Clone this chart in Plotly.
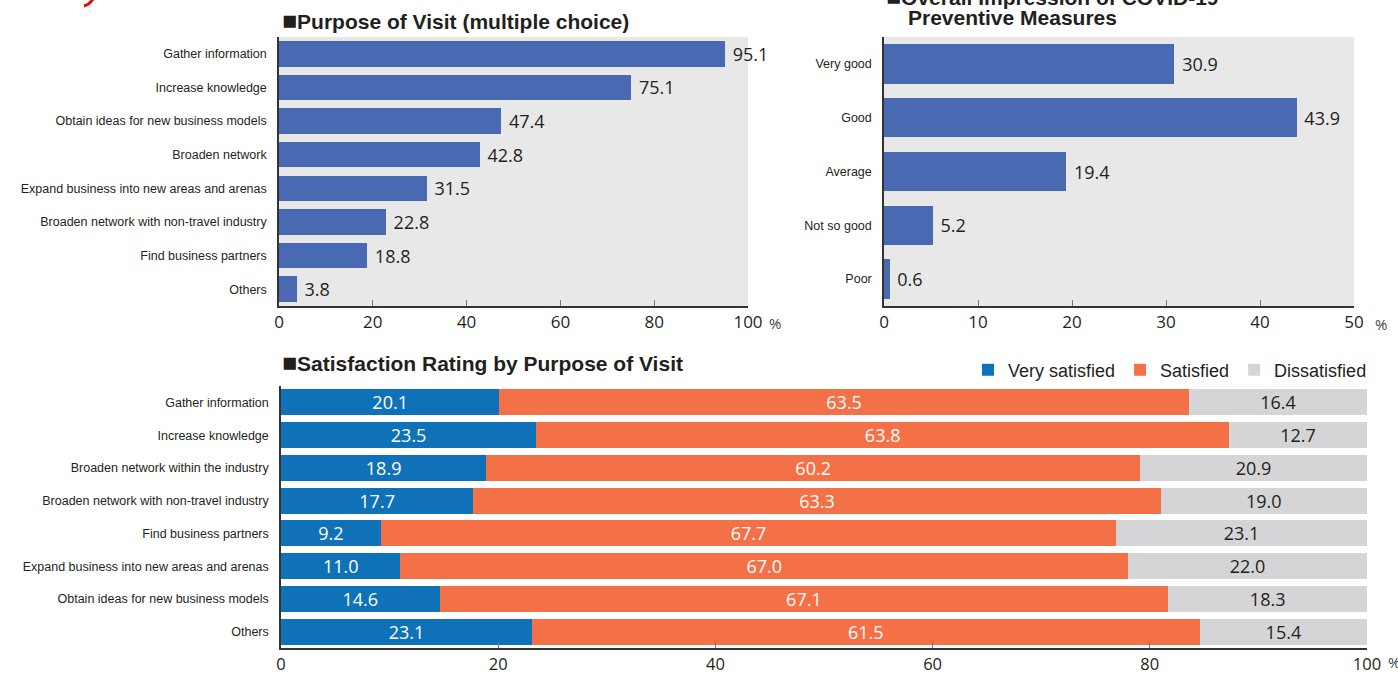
"""Visitor survey: purpose, COVID-19 measures impression, satisfaction by purpose."""
import plotly.graph_objects as go

W, H = 1398, 675

# --- data -------------------------------------------------------------
purpose_labels = [
    "Gather information",
    "Increase knowledge",
    "Obtain ideas for new business models",
    "Broaden network",
    "Expand business into new areas and arenas",
    "Broaden network with non-travel industry",
    "Find business partners",
    "Others",
]
purpose_values = [95.1, 75.1, 47.4, 42.8, 31.5, 22.8, 18.8, 3.8]

covid_labels = ["Very good", "Good", "Average", "Not so good", "Poor"]
covid_values = [30.9, 43.9, 19.4, 5.2, 0.6]

sat_labels = [
    "Gather information",
    "Increase knowledge",
    "Broaden network within the industry",
    "Broaden network with non-travel industry",
    "Find business partners",
    "Expand business into new areas and arenas",
    "Obtain ideas for new business models",
    "Others",
]
very_satisfied = [20.1, 23.5, 18.9, 17.7, 9.2, 11.0, 14.6, 23.1]
satisfied = [63.5, 63.8, 60.2, 63.3, 67.7, 67.0, 67.1, 61.5]
dissatisfied = [16.4, 12.7, 20.9, 19.0, 23.1, 22.0, 18.3, 15.4]

x_ticks_100 = [0, 20, 40, 60, 80, 100]
x_ticks_50 = [0, 10, 20, 30, 40, 50]

# --- style ------------------------------------------------------------
BAR_BLUE = "#4a69b3"
VS_BLUE = "#0f72b9"
SAT_ORANGE = "#f47148"
DIS_GREY = "#d5d5d7"
PANEL_BG = "#e8e8e8"
TEXT = "#231f20"
NUM_FONT = "Open Sans, Noto Sans, sans-serif"
CAT_FONT = "Liberation Sans, Arial, sans-serif"
TITLE_FONT = "Liberation Sans, Arial, sans-serif"


def px_x(x):
    return x / W


def px_y(y):
    return 1 - y / H


fig = go.Figure()

# top-left: purpose of visit
fig.add_trace(go.Bar(
    x=purpose_values, y=purpose_labels, orientation="h", width=0.76,
    marker=dict(color=BAR_BLUE, line_width=0),
    text=purpose_values, texttemplate="\u00a0%{x:.1f}", textposition="outside",
    textfont=dict(family=NUM_FONT, size=18, color=TEXT),
    cliponaxis=False, showlegend=False, xaxis="x", yaxis="y",
))

# top-right: covid measures
fig.add_trace(go.Bar(
    x=covid_values, y=covid_labels, orientation="h", width=0.73,
    marker=dict(color=BAR_BLUE, line_width=0),
    text=covid_values, texttemplate="\u00a0%{x:.1f}", textposition="outside",
    textfont=dict(family=NUM_FONT, size=18, color=TEXT),
    cliponaxis=False, showlegend=False, xaxis="x2", yaxis="y2",
))

# bottom: stacked satisfaction
for name, vals, col, tcol in [
    ("Very satisfied", very_satisfied, VS_BLUE, "white"),
    ("Satisfied", satisfied, SAT_ORANGE, "white"),
    ("Dissatisfied", dissatisfied, DIS_GREY, TEXT),
]:
    fig.add_trace(go.Bar(
        x=vals, y=sat_labels, orientation="h", name=name, width=0.8,
        marker=dict(color=col, line_width=0),
        text=vals, texttemplate="%{x:.1f}", textposition="inside",
        insidetextanchor="middle", constraintext="none",
        textfont=dict(family=NUM_FONT, size=18, color=tcol),
        xaxis="x3", yaxis="y3",
    ))

common_x = dict(
    showgrid=False, zeroline=False, showline=True, linecolor="#333", linewidth=1.5,
    ticks="inside", ticklen=6, tickcolor="#777", tickwidth=1.2, automargin=False,
    tickfont=dict(family=NUM_FONT, size=17, color=TEXT), fixedrange=True,
)
common_y = dict(
    showgrid=False, zeroline=False, showline=True, linecolor="#333", linewidth=1.5,
    ticks="", autorange="reversed", ticklabelstandoff=8, automargin=False,
    tickfont=dict(family=CAT_FONT, size=12.5, color=TEXT), fixedrange=True,
)

fig.update_layout(
    width=W, height=H, autosize=False,
    margin=dict(l=0, r=0, t=0, b=0, pad=0),
    paper_bgcolor="white",
    plot_bgcolor="white",
    barmode="stack",
    xaxis=dict(common_x, domain=[px_x(279), px_x(748)], anchor="y",
               range=[0, 100], tickvals=x_ticks_100),
    yaxis=dict(common_y, domain=[px_y(306), px_y(37)], anchor="x"),
    xaxis2=dict(common_x, domain=[px_x(884), px_x(1354)], anchor="y2",
                range=[0, 50], tickvals=x_ticks_50),
    yaxis2=dict(common_y, domain=[px_y(306), px_y(37)], anchor="x2"),
    xaxis3=dict(common_x, domain=[px_x(281), px_x(1367)], anchor="y3",
                range=[0, 100], tickvals=x_ticks_100,
                tickfont=dict(family=NUM_FONT, size=16.5, color=TEXT)),
    yaxis3=dict(common_y, domain=[px_y(648), px_y(386)], anchor="x3"),
    legend=dict(
        orientation="h", x=px_x(1372), xanchor="right", y=px_y(370), yanchor="middle",
        font=dict(family=TITLE_FONT, size=18, color=TEXT),
        itemsizing="constant", itemwidth=30, traceorder="normal",
        bgcolor="rgba(0,0,0,0)",
    ),
)

# grey panels behind the two top charts
for xa, ya in (("x", "y"), ("x2", "y2")):
    fig.add_shape(type="rect", xref=f"{xa} domain", yref=f"{ya} domain",
                  x0=0, x1=1, y0=0, y1=1, fillcolor=PANEL_BG, line_width=0,
                  layer="below")

# titles
title_font = dict(family=TITLE_FONT, size=21, color=TEXT)
SQ = "<span style='font-size:25px'>■</span>"
fig.add_annotation(text=f"<b>{SQ}Purpose of Visit (multiple choice)</b>", xref="paper",
                   yref="paper", x=px_x(280), y=px_y(20), xanchor="left", yanchor="middle",
                   showarrow=False, font=title_font)
fig.add_annotation(text=f"<b>{SQ}Overall Impression of COVID-19</b>", xref="paper", yref="paper",
                   x=px_x(884), y=px_y(-4), xanchor="left", yanchor="middle",
                   showarrow=False, font=title_font)
fig.add_annotation(text="<b>Preventive Measures</b>", xref="paper", yref="paper",
                   x=px_x(906), y=px_y(18), xanchor="left", yanchor="middle",
                   showarrow=False, font=title_font)
fig.add_annotation(text=f"<b>{SQ}Satisfaction Rating by Purpose of Visit</b>", xref="paper",
                   yref="paper", x=px_x(280), y=px_y(362), xanchor="left", yanchor="middle",
                   showarrow=False, font=title_font)

# percent unit marks after the last tick
for ax, xpos, ypos in (("x", 100, 323), ("x2", 50, 324), ("x3", 100, 662)):
    fig.add_annotation(text="%", xref=ax, yref="paper", x=xpos, y=px_y(ypos),
                       xshift=19, xanchor="left", yanchor="middle", showarrow=False,
                       font=dict(family=NUM_FONT, size=15, color="#444"))

# small red fragment of a logo at the top-left edge
fig.add_shape(type="path", xref="paper", yref="paper",
              path=f"M {px_x(84)},{px_y(6)} Q {px_x(89)},{px_y(5)} {px_x(93)},{px_y(-1)}",
              line=dict(color="#d7141a", width=3))

fig.write_html(
    "out.html",
    config={"responsive": False, "displayModeBar": False},
    post_script="document.body.style.margin='0';document.body.style.overflow='hidden';",
)
